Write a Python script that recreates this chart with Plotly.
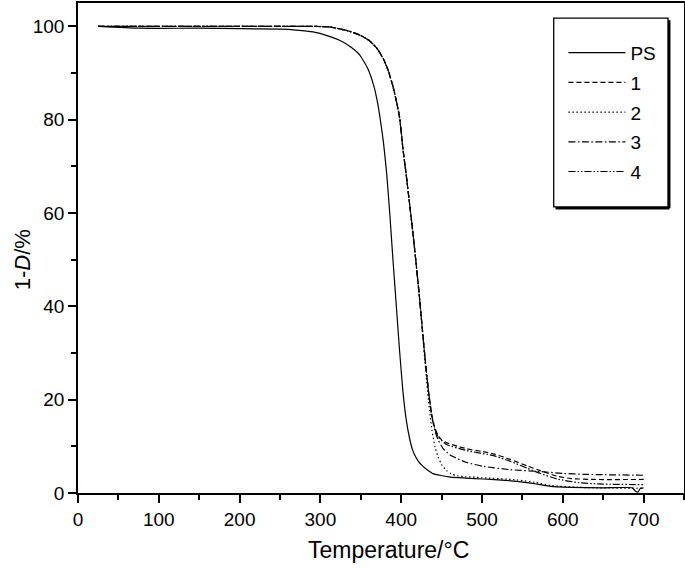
import plotly.graph_objects as go

# ---------------- data ----------------
series_names = ["PS", "1", "2", "3", "4"]

ps_T = [26, 75, 150, 200, 250, 270, 291, 310, 325, 338, 349, 359, 366, 370, 374, 378, 382, 386,
        390, 394, 398, 402, 406, 410, 414, 418, 422, 427, 432, 440, 448, 461, 480, 502, 520, 543,
        565, 585, 610, 650, 686, 690, 693, 696, 700]
ps_V = [100, 99.6, 99.6, 99.5, 99.4, 99.2, 98.8, 97.9, 96.9, 95.5, 93.8, 90.8, 87.3, 84.3, 80.2,
        75.2, 68.5, 59.5, 49.5, 40.0, 30.5, 22.0, 16.0, 12.0, 9.3, 7.7, 6.6, 5.7, 5.0, 4.1, 3.8,
        3.4, 3.2, 3.0, 2.8, 2.5, 2.0, 1.4, 1.2, 1.1, 1.1, 0.4, 0.2, 1.0, 1.1]

s1_T = [25, 100, 200, 280, 310, 320, 335, 349, 360, 370, 378, 384, 390, 394, 398, 402, 406, 410,
        414, 418, 422, 426, 430, 434, 438, 442, 446, 450, 456, 470, 481, 500, 514, 535, 556, 572,
        593, 610, 640, 700]
s1_V = [100, 100, 100, 100, 99.9, 99.6, 99.0, 98.1, 97.0, 95.3, 93.0, 90.5, 87.0, 84.0, 80.5,
        74.0, 68.5, 62.5, 56.5, 50.0, 43.0, 35.5, 28.0, 21.5, 16.5, 13.8, 12.2, 11.4, 10.8, 10.0,
        9.5, 8.9, 8.4, 7.2, 5.8, 4.8, 3.6, 3.1, 2.9, 2.9]

s2_T = [25, 100, 200, 280, 310, 320, 335, 349, 360, 370, 378, 384, 390, 394, 398, 402, 406, 410,
        414, 418, 422, 426, 430, 434, 438, 442, 446, 450, 456, 462, 469, 480, 500, 543, 565, 585,
        620, 700]
s2_V = [100, 100, 100, 100, 99.9, 99.6, 99.0, 98.1, 97.0, 95.3, 93.0, 90.5, 87.0, 84.0, 80.5,
        74.0, 68.5, 62.5, 56.5, 50.0, 43.0, 35.0, 27.0, 19.5, 13.5, 9.8, 7.6, 6.1, 4.8, 4.1, 3.7,
        3.5, 3.3, 2.8, 2.3, 1.6, 1.2, 1.0]

s3_T = [25, 100, 200, 280, 310, 320, 335, 349, 360, 370, 378, 384, 390, 394, 398, 402, 406, 410,
        414, 418, 422, 426, 430, 434, 438, 442, 446, 452, 460, 480, 502, 535, 572, 600, 626, 700]
s3_V = [100, 100, 100, 100, 99.9, 99.6, 99.0, 98.1, 97.0, 95.3, 93.0, 90.5, 87.0, 84.0, 80.5,
        74.0, 68.5, 62.5, 56.5, 50.0, 43.0, 35.5, 28.0, 21.5, 16.3, 13.2, 11.3, 9.5, 8.2, 6.6, 5.7,
        5.0, 4.6, 4.2, 4.0, 3.8]

s4_T = [25, 100, 200, 280, 310, 320, 335, 349, 360, 370, 378, 384, 390, 394, 398, 402, 406, 410,
        414, 418, 422, 426, 430, 434, 438, 442, 446, 456, 481, 514, 535, 556, 572, 593, 620, 650,
        700]
s4_V = [100, 100, 100, 100, 99.9, 99.6, 99.0, 98.1, 97.0, 95.3, 93.0, 90.5, 87.0, 84.0, 80.5,
        74.0, 68.5, 62.5, 56.5, 50.0, 43.0, 35.5, 28.0, 21.5, 16.5, 13.6, 12.0, 10.4, 9.1, 8.0,
        6.8, 5.3, 4.2, 3.0, 2.2, 1.9, 1.8]

x_ticks = [0, 100, 200, 300, 400, 500, 600, 700]
y_ticks = [0, 20, 40, 60, 80, 100]
x_title = "Temperature/°C"
y_title = "1-<i>D</i>/%"

# ---------------- styles ----------------
dashes = ["solid", "5px,3px", "1.5px,2.5px", "7px,2.5px,1.5px,2.5px", "7px,2px,1.5px,2px,1.5px,2px"]
FONT = "Liberation Sans, Arial, Helvetica, sans-serif"

fig = go.Figure()
for name, T, V, dash in zip(series_names,
                            [ps_T, s1_T, s2_T, s3_T, s4_T],
                            [ps_V, s1_V, s2_V, s3_V, s4_V],
                            dashes):
    fig.add_trace(go.Scatter(x=T, y=V, mode="lines", name=name, legendgroup=name,
                             line=dict(color="black", width=1.2, dash=dash, shape="spline",
                                       smoothing=0.5)))

# legend frame with a slight shadow (right/bottom heavier)
lx0, lx1, ly0, ly1 = 0.785, 0.9736, 0.584, 0.969
fig.add_shape(type="rect", xref="paper", yref="paper", x0=lx0, x1=lx1, y0=ly0, y1=ly1,
              line=dict(color="black", width=1.3), fillcolor="white", layer="below")
fig.add_shape(type="line", xref="paper", yref="paper", x0=lx1 + 0.002, x1=lx1 + 0.002,
              y0=ly0 - 0.003, y1=ly1 - 0.004, line=dict(color="black", width=2.5))
fig.add_shape(type="line", xref="paper", yref="paper", x0=lx0 + 0.003, x1=lx1 + 0.002,
              y0=ly0 - 0.003, y1=ly0 - 0.003, line=dict(color="black", width=2.5))

# axis titles placed as annotations (pixel offsets from the plot area)
fig.add_annotation(text=x_title, xref="paper", yref="paper", x=0.512, y=0, yanchor="middle",
                   yshift=-57, showarrow=False, font=dict(family=FONT, size=23, color="black"))
fig.add_annotation(text=y_title, xref="paper", yref="paper", x=0, y=0.475, xanchor="center",
                   xshift=-56, textangle=-90, showarrow=False,
                   font=dict(family=FONT, size=22, color="black"))

axis_common = dict(showline=True, linecolor="black", linewidth=1.5, mirror=True,
                   ticks="outside", ticklen=8, tickwidth=1.5, tickcolor="black",
                   showgrid=False, zeroline=False, automargin=False,
                   tickfont=dict(family=FONT, size=19, color="black"))

fig.update_layout(
    width=685, height=570,
    margin=dict(l=78, r=1, t=3, b=77, autoexpand=False),
    plot_bgcolor="white", paper_bgcolor="white",
    font=dict(family=FONT, color="black"),
    xaxis=dict(range=[0, 750], tickvals=x_ticks,
               minor=dict(dtick=50, tick0=0, ticks="outside", ticklen=5, tickwidth=1.5,
                          tickcolor="black"),
               **axis_common),
    yaxis=dict(range=[0, 105], tickvals=y_ticks,
               minor=dict(dtick=10, tick0=0, ticks="outside", ticklen=5, tickwidth=1.5,
                          tickcolor="black"),
               **axis_common),
    showlegend=True,
    legend=dict(x=0.801, y=0.937, xanchor="left", yanchor="top",
                bgcolor="rgba(0,0,0,0)", borderwidth=0,
                font=dict(family=FONT, size=19, color="black"),
                tracegroupgap=2, itemwidth=57),
)

fig.write_html("out.html", config={"displayModeBar": False},
               post_script="document.body.style.margin='0px';document.body.style.padding='0px';")
